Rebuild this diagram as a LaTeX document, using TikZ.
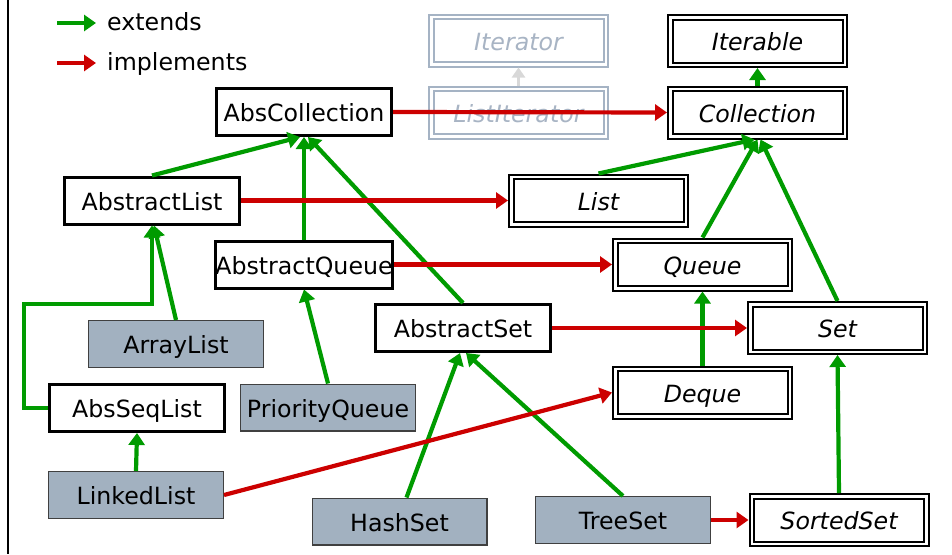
\documentclass[tikz,border=0pt]{standalone}
\usepackage{fontspec}
\setmainfont{DejaVu Sans}
\usetikzlibrary{arrows.meta,calc}
\definecolor{extgreen}{RGB}{0,155,0}
\definecolor{implred}{RGB}{204,0,0}
\definecolor{clsfill}{RGB}{162,177,192}
\definecolor{faded}{RGB}{165,179,196}
\definecolor{fadedtext}{RGB}{168,180,196}
\definecolor{fadedarrow}{RGB}{216,216,216}
\begin{document}
\begin{tikzpicture}[x=1pt,y=-1pt,
  lbl/.style={font=\fontsize{23.7}{28}\selectfont, inner sep=0pt, text height=19pt, text depth=0pt},
  absbox/.style={lbl, draw=black, fill=white, line width=3pt,
    minimum width=175pt, minimum height=47pt},
  ifbox/.style={lbl, font=\fontsize{23.7}{28}\selectfont\itshape, draw=black, fill=white,
    line width=2pt, double=white, double distance=2.5pt,
    minimum width=174.5pt, minimum height=47.5pt, outer sep=3.25pt},
  fadedbox/.style={ifbox, draw=faded, text=fadedtext},
  clsbox/.style={lbl, draw=black!75, fill=clsfill, line width=1.2pt,
    minimum width=174.8pt, minimum height=46.8pt},
  ext/.style={draw=extgreen, line width=4.2pt, -{Triangle[length=12pt,width=16pt]}},
  impl/.style={draw=implred, line width=4.2pt, -{Triangle[length=12pt,width=16pt]}},
  weak/.style={draw=fadedarrow, line width=3.5pt, -{Triangle[length=10pt,width=13pt]}},
]
\useasboundingbox (0,0) rectangle (952,554);

% left rule
\draw[line width=2.5pt] (8,0) -- (8,554);

% legend
\draw[ext] (57,23) -- (96,23);
\node[lbl, anchor=base west] (legext) at (107,30) {extends};
\draw[impl] (57,63) -- (96,63);
\node[lbl, anchor=base west] (legimpl) at (107,70) {implements};

% interfaces
\node[fadedbox] (iterator) at (518.5,40.5) {Iterator};
\node[fadedbox] (listit)   at (518.5,112.5) {ListIterator};
\node[ifbox] (iterable) at (757.5,41) {Iterable};
\node[ifbox] (coll)     at (757.5,112.5) {Collection};
\node[ifbox] (list)     at (598.5,200.5) {List};
\node[ifbox] (queue)    at (702.5,264.5) {Queue};
\node[ifbox] (set)      at (837.5,328) {Set};
\node[ifbox] (deque)    at (702.5,392.5) {Deque};
\node[ifbox] (sorted)   at (839,520) {SortedSet};

% abstract classes
\node[absbox] (abscoll)  at (304,112) {AbsCollection};
\node[absbox] (abslist)  at (152,200.5) {AbstractList};
\node[absbox] (absqueue) at (304,264.5) {AbstractQueue};
\node[absbox] (absset)   at (463,328) {AbstractSet};
\node[absbox] (absseq)   at (137,408) {AbsSeqList};

% concrete classes
\node[clsbox] (arraylist) at (176,344) {ArrayList};
\node[clsbox] (pq)        at (328,407.5) {PriorityQueue};
\node[clsbox] (linked)    at (136,495) {LinkedList};
\node[clsbox] (hashset)   at (399.5,521.5) {HashSet};
\node[clsbox] (treeset)   at (623,520) {TreeSet};

% faded iterator relation
\draw[weak] (listit.north) -- (iterator.south);

% extends
\draw[ext] (coll.north) -- (iterable.south);
\draw[ext] (abslist.north) -- ($(abscoll.south)+(-4,0)$);
\draw[ext] (absqueue.north) -- (abscoll.south);
\draw[ext] (absset.north) -- ($(abscoll.south)+(4,0)$);
\draw[ext] (list.north) -- ($(coll.south)+(-3,0)$);
\draw[ext] (queue.north) -- (coll.south);
\draw[ext] (set.north) -- ($(coll.south)+(3,0)$);
\draw[ext] (arraylist.north) -- ($(abslist.south)+(2,0)$);
\draw[ext] (absseq.west) -- ++(-24,0) -- ++(0,-104) -| (abslist.south);
\draw[ext] (linked.north) -- (absseq.south);
\draw[ext] (pq.north) -- (absqueue.south);
\draw[ext] ($(hashset.north)+(7,0)$) -- ($(absset.south)+(-3,0)$);
\draw[ext] (treeset.north) -- ($(absset.south)+(3,0)$);
\draw[ext] (deque.north) -- (queue.south);
\draw[ext] (sorted.north) -- (set.south);

% implements
\draw[impl] (abscoll.east) -- (coll.west);
\draw[impl] (abslist.east) -- (list.west);
\draw[impl] (absqueue.east) -- (queue.west);
\draw[impl] (absset.east) -- (set.west);
\draw[impl] (linked.east) -- (deque.west);
\draw[impl] (treeset.east) -- (sorted.west);
\end{tikzpicture}
\end{document}
